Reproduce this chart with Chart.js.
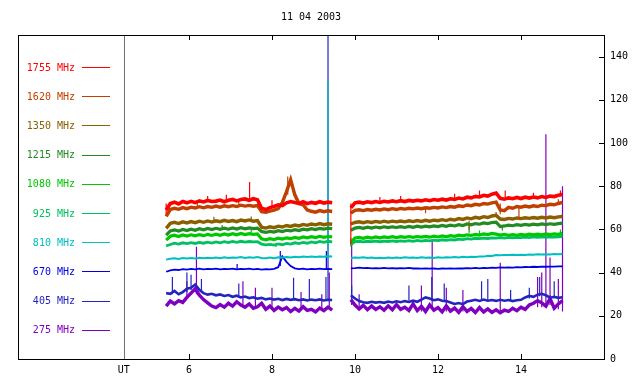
<!DOCTYPE html>
<html>
<head>
<meta charset="utf-8">
<script src="https://cdn.jsdelivr.net/npm/chart.js@4.4.1/dist/chart.umd.min.js"></script>
<style>
  html, body { margin: 0; padding: 0; background: #fff; }
  #wrap { width: 640px; height: 384px; }
</style>
</head>
<body>
<div id="wrap"><canvas id="radio" width="640" height="384"></canvas></div>
<script>
// sample times (UT hours) of the two observing runs
const UT1 = [5.45, 5.55, 5.65, 5.75, 5.85, 5.95, 6.05, 6.15, 6.25, 6.35, 6.45, 6.55, 6.65, 6.75, 6.85, 6.95, 7.05, 7.15, 7.25, 7.35, 7.45, 7.55, 7.65, 7.75, 7.85, 7.95, 8.05, 8.15, 8.25, 8.35, 8.45, 8.55, 8.65, 8.75, 8.85, 8.95, 9.05, 9.15, 9.25, 9.35, 9.45];
const UT2 = [9.9, 10.0, 10.1, 10.2, 10.3, 10.4, 10.5, 10.6, 10.7, 10.8, 10.9, 11.0, 11.1, 11.2, 11.3, 11.4, 11.5, 11.6, 11.7, 11.8, 11.9, 12.0, 12.1, 12.2, 12.3, 12.4, 12.5, 12.6, 12.7, 12.8, 12.9, 13.0, 13.1, 13.2, 13.3, 13.4, 13.5, 13.6, 13.7, 13.8, 13.9, 14.0, 14.1, 14.2, 14.3, 14.4, 14.5, 14.6, 14.7, 14.8, 14.9, 15.0];

const TITLE = "11 04 2003";
const X_TICKS = [6, 8, 10, 12, 14];
const UT_MARK = 4.43;
const Y_TICKS = [0, 20, 40, 60, 80, 100, 120, 140];

const LABELS = ["1755 MHz", "1620 MHz", "1350 MHz", "1215 MHz", "1080 MHz", "925 MHz", "810 MHz", "670 MHz", "405 MHz", "275 MHz"];
const COLORS = ["#ff0000", "#c04000", "#8b5f00", "#228b22", "#00c800", "#00c060", "#00bfbf", "#0000e6", "#2424c0", "#7f00bf"];

// flux, first run
const F1755_A = [69.0, 72.0, 72.6, 71.8, 72.9, 72.3, 73.0, 72.4, 73.2, 72.7, 73.4, 72.9, 73.1, 73.6, 72.8, 73.5, 73.9, 73.2, 73.8, 74.1, 73.5, 74.2, 73.7, 69.8, 69.2, 70.1, 70.6, 71.4, 71.0, 72.3, 72.9, 72.4, 72.0, 72.8, 71.9, 72.5, 72.1, 72.8, 72.2, 72.6, 72.3];
const F1620_A = [66.0, 69.2, 69.8, 69.3, 70.1, 69.6, 70.3, 69.9, 70.5, 70.0, 70.6, 70.2, 70.8, 70.3, 70.9, 70.5, 71.0, 70.6, 71.2, 70.8, 71.1, 70.7, 71.0, 68.2, 67.9, 68.5, 68.9, 69.6, 72.5, 77.5, 83.0, 76.0, 72.0, 71.4, 69.0, 68.4, 68.0, 68.7, 68.2, 68.6, 68.3];
const F1350_A = [60.5, 62.8, 63.3, 62.7, 63.5, 63.0, 63.6, 63.1, 63.8, 63.3, 63.9, 63.4, 64.0, 63.6, 64.2, 63.7, 64.1, 63.6, 64.3, 63.9, 64.4, 63.8, 64.1, 61.0, 60.6, 61.2, 60.8, 61.5, 61.1, 61.8, 61.4, 62.0, 61.6, 62.3, 61.9, 62.5, 62.1, 62.7, 62.2, 62.6, 62.4];
const F1215_A = [57.4, 59.3, 59.8, 59.2, 60.0, 59.5, 60.1, 59.6, 60.3, 59.8, 60.4, 59.9, 60.5, 60.0, 60.6, 60.1, 60.7, 60.2, 60.8, 60.3, 60.7, 60.4, 60.6, 59.0, 58.6, 59.1, 58.8, 59.4, 59.0, 59.6, 59.3, 59.9, 59.5, 60.1, 59.8, 60.3, 59.9, 60.5, 60.1, 60.6, 60.3];
const F1080_A = [55.0, 56.8, 57.3, 56.7, 57.4, 56.9, 57.5, 57.0, 57.6, 57.1, 57.7, 57.2, 57.8, 57.3, 57.9, 57.4, 58.0, 57.5, 58.1, 57.6, 58.0, 57.7, 57.9, 55.6, 55.2, 55.7, 55.3, 55.9, 55.5, 56.1, 55.7, 56.3, 55.9, 56.5, 56.1, 56.6, 56.2, 56.8, 56.3, 56.7, 56.5];
const F925_A = [52.3, 53.0, 53.6, 53.2, 53.8, 53.4, 53.9, 53.5, 54.0, 53.6, 54.1, 53.7, 54.2, 53.8, 54.3, 53.9, 54.4, 54.0, 54.5, 54.1, 54.4, 54.2, 54.3, 53.2, 52.8, 53.1, 52.7, 53.3, 52.9, 53.5, 53.2, 53.8, 53.4, 54.0, 53.6, 54.2, 53.8, 54.4, 54.0, 54.5, 54.2];
const F810_A = [46.0, 46.4, 46.6, 46.3, 46.7, 46.5, 46.8, 46.5, 46.9, 46.6, 46.9, 46.7, 47.0, 46.7, 47.1, 46.8, 47.0, 46.9, 47.2, 46.8, 47.1, 46.9, 47.2, 46.8, 46.6, 47.0, 46.7, 47.1, 46.9, 47.2, 47.0, 47.3, 47.1, 47.4, 47.2, 47.4, 47.2, 47.5, 47.3, 47.6, 47.5];
const F670_A = [40.4, 41.0, 41.4, 41.2, 41.6, 41.4, 41.7, 41.5, 41.8, 41.5, 41.7, 41.6, 41.8, 41.5, 41.7, 41.6, 41.8, 41.5, 41.7, 41.6, 41.8, 41.5, 41.7, 41.4, 41.6, 41.5, 41.7, 42.5, 47.5, 45.0, 43.0, 42.0, 41.6, 41.8, 41.5, 41.7, 41.6, 41.8, 41.6, 41.7, 41.6];
const F405_A = [30.5, 30.2, 31.5, 30.0, 31.0, 32.5, 33.0, 34.5, 32.0, 30.5, 29.8, 30.2, 29.5, 29.9, 29.2, 29.6, 28.8, 29.3, 28.5, 28.9, 28.2, 28.6, 27.9, 28.3, 27.6, 28.0, 27.5, 27.9, 27.3, 27.8, 27.4, 27.7, 27.2, 27.6, 27.1, 27.5, 27.2, 27.6, 27.1, 27.4, 27.3];
const F275_A = [24.5, 26.8, 25.5, 27.0, 26.2, 28.5, 30.5, 32.5, 29.5, 27.5, 26.0, 24.5, 23.8, 25.2, 24.0, 25.8, 24.5, 26.5, 25.0, 24.0, 25.5, 23.5, 24.2, 25.8, 23.0, 24.5, 22.5, 24.0, 22.8, 23.8, 22.0, 23.5, 22.2, 24.2, 22.5, 23.0, 21.8, 23.6, 22.4, 24.0, 22.6];

// flux, second run
const F1755_B = [70.0, 72.3, 72.6, 72.2, 72.8, 72.4, 72.9, 72.5, 73.0, 72.7, 73.2, 72.8, 73.3, 72.9, 73.4, 73.1, 73.5, 73.2, 73.7, 73.3, 73.8, 73.5, 74.0, 73.6, 74.2, 73.9, 74.5, 74.1, 74.9, 74.6, 75.3, 75.0, 75.8, 75.4, 76.3, 76.8, 74.4, 74.0, 74.6, 74.2, 74.8, 74.3, 74.9, 74.5, 75.0, 74.6, 75.2, 74.8, 75.4, 75.2, 75.8, 76.2];
const F1620_B = [67.5, 68.8, 69.1, 68.7, 69.2, 68.9, 69.3, 69.0, 69.5, 69.1, 69.6, 69.2, 69.7, 69.4, 69.8, 69.5, 69.9, 69.6, 70.0, 69.8, 70.2, 69.9, 70.4, 70.1, 70.6, 70.3, 70.9, 70.6, 71.3, 71.0, 71.6, 71.3, 72.0, 71.7, 72.3, 72.6, 69.0, 68.7, 70.2, 69.8, 70.6, 70.3, 70.8, 70.4, 70.9, 70.6, 71.2, 71.0, 71.6, 71.4, 72.0, 72.5];
const F1350_B = [62.5, 63.2, 63.5, 63.1, 63.6, 63.2, 63.7, 63.3, 63.8, 63.4, 63.8, 63.5, 63.9, 63.5, 64.0, 63.6, 64.1, 63.7, 64.2, 63.8, 64.3, 64.0, 64.5, 64.1, 64.7, 64.3, 65.0, 64.6, 65.3, 64.9, 65.6, 65.2, 65.9, 65.5, 66.2, 66.5, 64.8, 64.6, 65.1, 64.8, 65.3, 65.0, 65.4, 65.1, 65.5, 65.2, 65.6, 65.3, 65.7, 65.4, 65.8, 66.0];
const F1215_B = [59.5, 60.6, 60.9, 60.5, 61.0, 60.6, 61.1, 60.7, 61.2, 60.8, 61.2, 60.9, 61.3, 60.9, 61.4, 61.0, 61.5, 61.1, 61.5, 61.2, 61.6, 61.3, 61.8, 61.4, 62.0, 61.6, 62.2, 61.8, 62.5, 62.1, 62.7, 62.4, 63.0, 62.7, 63.2, 63.4, 61.3, 61.6, 62.0, 61.7, 62.2, 61.9, 62.3, 62.0, 62.4, 62.1, 62.5, 62.2, 62.6, 62.3, 62.7, 62.9];
const F1080_B = [54.0, 56.0, 56.3, 55.9, 56.4, 56.0, 56.5, 56.1, 56.5, 56.2, 56.6, 56.2, 56.6, 56.3, 56.7, 56.3, 56.7, 56.4, 56.8, 56.4, 56.9, 56.5, 57.0, 56.6, 57.1, 56.8, 57.3, 57.0, 57.5, 57.2, 57.7, 57.4, 57.9, 57.6, 58.1, 57.8, 57.4, 57.7, 57.3, 57.6, 57.3, 57.7, 57.4, 57.8, 57.5, 57.8, 57.5, 57.9, 57.6, 57.9, 57.7, 58.2];
const F925_B = [53.0, 54.3, 54.5, 54.2, 54.5, 54.3, 54.6, 54.3, 54.6, 54.4, 54.7, 54.4, 54.7, 54.5, 54.8, 54.5, 54.9, 54.6, 54.9, 54.7, 55.0, 54.8, 55.2, 54.9, 55.3, 55.1, 55.5, 55.3, 55.7, 55.5, 55.9, 55.7, 56.0, 55.8, 56.1, 56.0, 56.2, 56.0, 56.3, 56.1, 56.3, 56.2, 56.4, 56.2, 56.5, 56.3, 56.5, 56.4, 56.6, 56.4, 56.6, 56.8];
const F810_B = [46.8, 47.0, 46.9, 47.1, 46.8, 47.0, 46.7, 46.9, 46.7, 47.0, 46.8, 47.0, 46.8, 47.1, 46.9, 47.0, 46.8, 47.1, 46.9, 47.0, 46.8, 47.1, 46.9, 47.1, 47.0, 47.2, 47.0, 47.3, 47.1, 47.3, 47.2, 47.5, 47.4, 47.8, 47.7, 48.1, 48.0, 48.2, 48.1, 48.3, 48.2, 48.3, 48.2, 48.4, 48.3, 48.5, 48.4, 48.5, 48.4, 48.6, 48.5, 48.6];
const F670_B = [42.0, 42.1, 42.3, 42.1, 42.2, 42.0, 42.1, 42.0, 42.2, 42.0, 42.1, 41.9, 42.1, 42.0, 42.2, 41.9, 42.0, 41.8, 42.0, 41.8, 41.9, 41.7, 41.9, 41.8, 42.0, 41.8, 42.0, 41.9, 42.1, 42.0, 42.2, 42.0, 42.2, 42.1, 42.3, 42.2, 42.4, 42.3, 42.4, 42.3, 42.5, 42.4, 42.6, 42.5, 42.7, 42.6, 42.8, 42.7, 42.8, 42.8, 42.9, 42.9];
const F405_B = [29.5, 28.0, 26.8, 26.3, 26.0, 26.5, 26.1, 26.4, 26.0, 26.6, 26.2, 26.7, 26.3, 26.8, 26.4, 27.0, 26.5, 27.5, 28.5, 28.0, 27.2, 27.6, 27.0, 26.8, 26.2, 25.5, 25.9, 25.4, 26.6, 27.0, 27.4, 26.9, 27.5, 27.0, 27.3, 26.9, 27.4, 27.0, 27.3, 26.8, 27.2, 27.4, 28.5, 29.2, 28.8, 29.8, 30.2, 29.5, 28.4, 28.8, 28.3, 28.6];
const F275_B = [27.5, 25.0, 23.2, 24.8, 22.8, 24.5, 23.0, 24.2, 22.6, 24.6, 22.8, 25.2, 23.0, 24.0, 22.5, 25.5, 22.4, 24.4, 22.0, 25.0, 22.6, 23.8, 21.8, 24.6, 22.2, 23.6, 21.6, 24.2, 22.0, 23.4, 21.5, 23.8, 21.8, 23.2, 21.6, 22.8, 21.4, 22.6, 22.0, 23.5, 22.4, 24.0, 23.0, 25.0, 25.8, 27.0, 26.0, 24.5, 28.0, 23.5, 25.5, 27.0];

// short bursts / glitches: [UT, from, to]
const S1755 = [[5.45, 67, 72], [6.45, 73, 75.5], [6.9, 73.5, 76], [7.46, 74, 82], [8.0, 70.5, 73.5], [9.9, 72, 53], [10.6, 72.5, 75], [11.1, 73, 75.5], [12.4, 74, 76.5], [13.0, 75.5, 78], [13.62, 75, 78], [14.3, 74.8, 77], [14.95, 76, 78]];
const S1620 = [[6.2, 70, 72.5], [7.2, 70.8, 73], [8.38, 76, 84.5], [11.7, 69.5, 67.5], [13.5, 72, 67], [13.95, 70.5, 65], [14.9, 72, 74]];
const S1350 = [[6.6, 63.5, 65.8], [7.5, 64, 66], [12.75, 64, 60], [13.4, 66, 68]];
const S1215 = [[6.8, 60, 62], [12.75, 61.5, 58.5], [13.55, 62, 59.5]];
const S1080 = [[7.5, 57.8, 60], [9.9, 56, 52], [13.0, 57.5, 59.5], [14.95, 58, 60]];
const S925 = [[8.1, 53.5, 51.8]];
const S810 = [[9.35, 47, 129]];
const S670 = [[7.16, 41.6, 44], [8.2, 43, 50], [9.31, 41.6, 50]];
const S405 = [[5.6, 30, 38], [5.95, 31, 40], [6.05, 32, 39], [6.3, 31, 37], [7.2, 29, 35], [8.52, 27.5, 37.6], [8.9, 27.5, 37], [9.3, 27, 38], [9.35, 27, 155], [9.92, 28, 34], [11.3, 27, 34], [11.85, 27, 38], [12.15, 27, 35], [13.05, 27, 36], [13.2, 27, 37], [13.75, 27, 32], [14.2, 28, 33], [14.45, 29, 38], [14.8, 28, 36]];
const S275 = [[5.95, 28, 36], [6.18, 30, 52], [7.3, 25, 36], [7.6, 24, 33], [8.0, 24, 33], [8.7, 23, 31], [9.2, 23, 30], [9.38, 24, 40], [9.92, 25, 54], [10.1, 23, 30], [11.6, 22, 34], [11.86, 23, 55], [12.2, 22, 33], [12.6, 22, 32], [13.5, 22, 44.6], [14.4, 24, 38], [14.5, 24, 40], [14.6, 25, 104], [14.7, 25, 47], [14.9, 23, 37], [15.0, 22, 80]];

const RUN_A = [F1755_A, F1620_A, F1350_A, F1215_A, F1080_A, F925_A, F810_A, F670_A, F405_A, F275_A];
const RUN_B = [F1755_B, F1620_B, F1350_B, F1215_B, F1080_B, F925_B, F810_B, F670_B, F405_B, F275_B];
const SPIKES = [S1755, S1620, S1350, S1215, S1080, S925, S810, S670, S405, S275];
const WIDTHS = [3.6, 3.4, 3.4, 3.2, 3.2, 2.8, 2.0, 1.8, 2.6, 3.4];

function seriesPoints(a, b) {
  const pts = UT1.map((t, i) => ({ x: t, y: a[i] }));
  pts.push({ x: (UT1[UT1.length - 1] + UT2[0]) / 2, y: null }); // data gap
  UT2.forEach((t, i) => pts.push({ x: t, y: b[i] }));
  return pts;
}

function spikePoints(list) {
  const pts = [];
  list.forEach(s => {
    pts.push({ x: s[0], y: s[1] }, { x: s[0], y: s[2] }, { x: s[0], y: null });
  });
  return pts;
}

const datasets = [];
LABELS.forEach((lab, i) => {
  datasets.push({
    label: lab,
    data: seriesPoints(RUN_A[i], RUN_B[i]),
    borderColor: COLORS[i],
    borderWidth: WIDTHS[i],
    pointRadius: 0,
    tension: 0,
    spanGaps: false
  });
  datasets.push({
    label: lab + " bursts",
    data: spikePoints(SPIKES[i]),
    borderColor: COLORS[i],
    borderWidth: 1.2,
    pointRadius: 0,
    spanGaps: false
  });
});

const frameAndLegend = {
  id: "frameAndLegend",
  afterDraw(chart) {
    const ctx = chart.ctx;
    const a = chart.chartArea;
    const xs = chart.scales.x;
    const ys = chart.scales.y;
    ctx.save();
    // gray divider at the UT label
    const ux = Math.round(xs.getPixelForValue(UT_MARK)) + 0.5;
    ctx.strokeStyle = "#707070";
    ctx.lineWidth = 1;
    ctx.beginPath();
    ctx.moveTo(ux, a.top);
    ctx.lineTo(ux, a.bottom);
    ctx.stroke();
    // frame
    ctx.strokeStyle = "#000";
    ctx.strokeRect(Math.round(a.left) + 0.5, Math.round(a.top) + 0.5,
      Math.round(a.right - a.left), Math.round(a.bottom - a.top));
    // tick marks, pointing inward
    ctx.beginPath();
    X_TICKS.forEach(v => {
      const px = Math.round(xs.getPixelForValue(v)) + 0.5;
      ctx.moveTo(px, a.top); ctx.lineTo(px, a.top + 5);
      ctx.moveTo(px, a.bottom); ctx.lineTo(px, a.bottom - 5);
    });
    Y_TICKS.forEach(v => {
      const py = Math.round(ys.getPixelForValue(v)) + 0.5;
      ctx.moveTo(a.right, py); ctx.lineTo(a.right - 5, py);
    });
    ctx.stroke();
    // title
    ctx.fillStyle = "#000";
    ctx.font = "10px 'DejaVu Sans Mono'";
    ctx.textAlign = "center";
    ctx.textBaseline = "middle";
    ctx.fillText(TITLE, (a.left + a.right) / 2, 17);
    // legend
    LABELS.forEach((lab, i) => {
      const y = 67 + i * 29.2;
      ctx.fillStyle = COLORS[i];
      ctx.textAlign = "right";
      ctx.fillText(lab, 75, y + 1);
      ctx.strokeStyle = COLORS[i];
      ctx.beginPath();
      ctx.moveTo(82, Math.round(y) + 0.5);
      ctx.lineTo(110, Math.round(y) + 0.5);
      ctx.stroke();
    });
    ctx.restore();
  }
};

Chart.defaults.font.family = "'DejaVu Sans Mono', monospace";
Chart.defaults.font.size = 10;
Chart.defaults.color = "#000";

new Chart(document.getElementById("radio"), {
  type: "line",
  data: { datasets },
  options: {
    responsive: false,
    animation: false,
    layout: { padding: { left: 18, top: 35, right: 0, bottom: 0 } },
    plugins: { legend: { display: false }, tooltip: { enabled: false } },
    scales: {
      x: {
        type: "linear",
        min: 1.88,
        max: 16,
        grid: { display: false, drawTicks: false },
        border: { display: false },
        afterBuildTicks: s => { s.ticks = [UT_MARK].concat(X_TICKS).map(v => ({ value: v })); },
        afterFit: s => { s.height = 25; },
        ticks: {
          padding: 5,
          maxRotation: 0,
          autoSkip: false,
          callback: v => (v === UT_MARK ? "UT" : String(v))
        }
      },
      y: {
        position: "right",
        min: 0,
        max: 150,
        grid: { display: false, drawTicks: false },
        border: { display: false },
        afterBuildTicks: s => { s.ticks = Y_TICKS.map(v => ({ value: v })); },
        afterFit: s => { s.width = 36; },
        ticks: { padding: 6, autoSkip: false }
      }
    }
  },
  plugins: [frameAndLegend]
});
</script>
</body>
</html>
